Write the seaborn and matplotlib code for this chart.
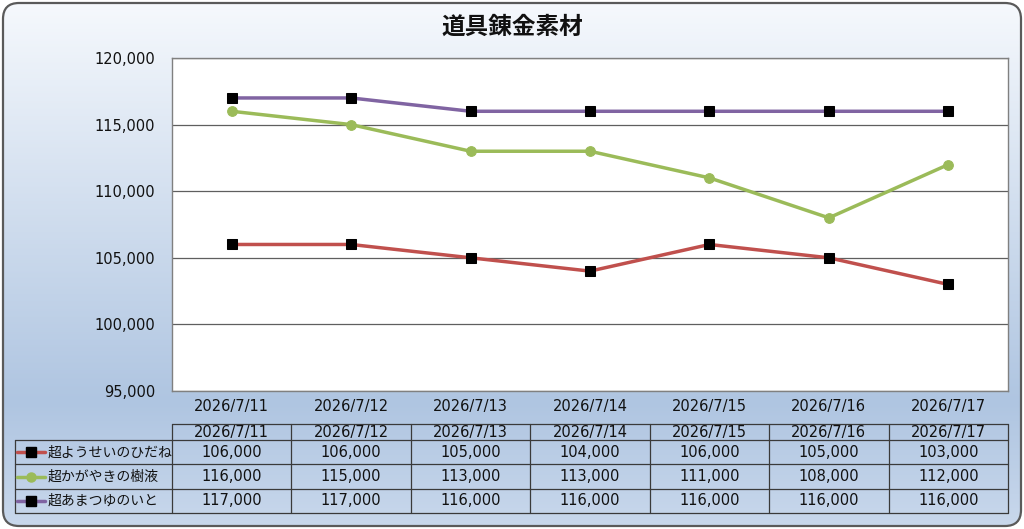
import matplotlib

matplotlib.use("Agg")
import matplotlib.pyplot as plt
import numpy as np
import pandas as pd
import seaborn as sns
from matplotlib.colors import LinearSegmentedColormap
from matplotlib.lines import Line2D
from matplotlib.patches import FancyBboxPatch
from matplotlib.ticker import FuncFormatter

TITLE = "道具錬金素材"
dates = ["2026/7/11", "2026/7/12", "2026/7/13", "2026/7/14",
         "2026/7/15", "2026/7/16", "2026/7/17"]
series_names = ["超ようせいのひだね", "超かがやきの樹液", "超あまつゆのいと"]
hidane = [106000, 106000, 105000, 104000, 106000, 105000, 103000]
jueki = [116000, 115000, 113000, 113000, 111000, 108000, 112000]
ito = [117000, 117000, 116000, 116000, 116000, 116000, 116000]
y_ticks = [95000, 100000, 105000, 110000, 115000, 120000]

line_colors = ["#c0504d", "#9bbb59", "#8064a2"]
markers = ["s", "o", "s"]
marker_colors = ["#000000", "#9bbb59", "#000000"]

sns.set_theme(style="white")
# DejaVu for the (wide) digits, Noto CJK picks up the Japanese glyphs
plt.rcParams["font.family"] = ["DejaVu Sans", "Noto Sans CJK JP"]
JP = ["Noto Sans CJK JP", "DejaVu Sans"]

W, H = 1024, 529
fig = plt.figure(figsize=(W / 100, H / 100), dpi=100)

# background: rounded frame with a vertical gradient, pixel coordinates
bg = fig.add_axes([0, 0, 1, 1])
bg.axis("off")
frame = FancyBboxPatch((3, 3), W - 6, H - 6,
                       boxstyle="round,pad=0,rounding_size=16",
                       fc="none", ec="#5a5a5a", lw=1.6, zorder=3)
bg.add_patch(frame)
grad = LinearSegmentedColormap.from_list(
    "bg", [(0, "#f6f9fd"), (0.76, "#afc5e1"), (1, "#c9d8ec")])
img = bg.imshow(np.linspace(0, 1, 256)[:, None], cmap=grad,
                extent=(0, W, H, 0), aspect="auto", zorder=0)
img.set_clip_path(frame)
bg.set_xlim(0, W)
bg.set_ylim(H, 0)

fig.text(0.5, 1 - 27 / H, TITLE, ha="center", va="center", family=JP,
         fontsize=17, fontweight="bold", color="#111111")

# main plot
px_l, px_r, px_t, px_b = 172, 1008, 58, 391
ax = fig.add_axes([px_l / W, 1 - px_b / H, (px_r - px_l) / W, (px_b - px_t) / H])
ax.set_facecolor("white")

df = pd.DataFrame({
    "date": dates * 3,
    "price": hidane + jueki + ito,
    "item": [n for n in series_names for _ in dates],
})

for name, lc, mk, mc in zip(series_names, line_colors, markers, marker_colors):
    sns.lineplot(data=df[df["item"] == name], x="date", y="price", ax=ax,
                 sort=False, color=lc, lw=2.5, marker=mk, markersize=7,
                 markerfacecolor=mc, markeredgecolor=mc, legend=False)

ax.set_xlim(-0.5, len(dates) - 0.5)
ax.set_ylim(y_ticks[0], y_ticks[-1])
ax.set_yticks(y_ticks)
ax.yaxis.set_major_formatter(FuncFormatter(lambda v, _: f"{int(v):,}"))
ax.grid(axis="y", color="#5f5f5f", lw=0.9)
ax.set_xlabel("")
ax.set_ylabel("")
ax.tick_params(axis="y", length=0, pad=12, labelsize=10.5, colors="#111111")
ax.tick_params(axis="x", length=0, pad=6, labelsize=10.5, colors="#111111")
for sp in ax.spines.values():
    sp.set_color("#808080")
    sp.set_linewidth(1)

# data table under the plot
col_w = (px_r - px_l) / len(dates)
head_t, head_b = 424, 440
row_h = (513 - head_b) / 3
tbl_l = 15
edge = dict(color="#3a3a3a", lw=0.9, zorder=2)

bg.plot([px_l, px_r], [head_t, head_t], **edge)
for i in range(len(dates) + 1):
    x = px_l + i * col_w
    bg.plot([x, x], [head_t, 513], **edge)
bg.plot([tbl_l, tbl_l], [head_b, 513], **edge)
for r in range(4):
    y = head_b + r * row_h
    bg.plot([tbl_l, px_r], [y, y], **edge)

for i, d in enumerate(dates):
    bg.text(px_l + (i + 0.5) * col_w, (head_t + head_b) / 2 + 1, d,
            ha="center", va="center", fontsize=10.5, color="#111111")

table_vals = [hidane, jueki, ito]
for r, (name, vals, lc, mk, mc) in enumerate(
        zip(series_names, table_vals, line_colors, markers, marker_colors)):
    yc = head_b + (r + 0.5) * row_h
    bg.add_line(Line2D([17, 45], [yc, yc], color=lc, lw=2.5, zorder=3))
    bg.add_line(Line2D([31], [yc], marker=mk, markersize=6.5, color=mc,
                       markeredgecolor=mc, zorder=4))
    bg.text(48, yc, name, ha="left", va="center", fontsize=10, family=JP,
            color="#111111")
    for i, v in enumerate(vals):
        bg.text(px_l + (i + 0.5) * col_w, yc, f"{v:,}", ha="center",
                va="center", fontsize=10.5, color="#111111")

fig.savefig("out.png", dpi=100)
